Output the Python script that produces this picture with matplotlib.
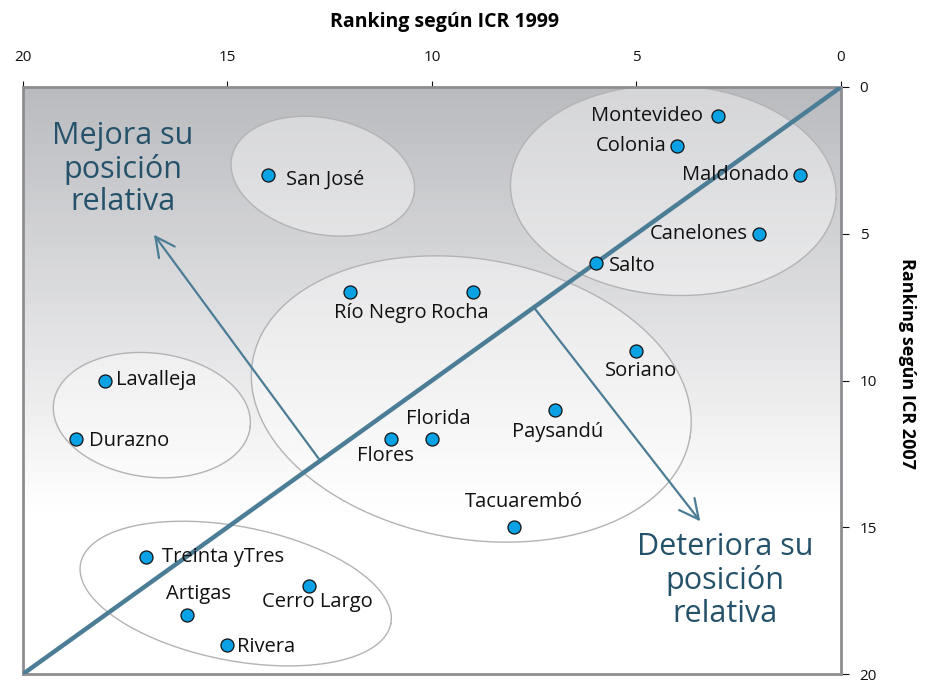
import numpy as np
import matplotlib
matplotlib.use('Agg')
import matplotlib.pyplot as plt
from matplotlib.colors import to_rgb

plt.rcParams['font.family'] = ['Open Sans', 'DejaVu Sans']

# =========================
# DATA (ranking 1999 = x, ranking 2007 = y)
# =========================
departamentos = ['Montevideo', 'Colonia', 'Maldonado', 'Canelones', 'Salto',
                 'San José', 'Río Negro', 'Rocha', 'Soriano', 'Lavalleja',
                 'Durazno', 'Florida', 'Flores', 'Paysandú', 'Tacuarembó',
                 'Treinta yTres', 'Cerro Largo', 'Artigas', 'Rivera']
rank_1999 = [3, 4, 1, 2, 6, 14, 12, 9, 5, 18, 18.7, 10, 11, 7, 8, 17, 13, 16, 15]
rank_2007 = [1, 2, 3, 5, 6, 3, 7, 7, 9, 10, 12, 12, 12, 11, 15, 16, 17, 18, 19]

ticks = [0, 5, 10, 15, 20]

# =========================
# LAYOUT
# =========================
W, H = 928, 685
LINE = '#4c7d96'
TXT = '#25526b'

# label offsets in pixels: (dx, dy, ha)
offsets = {
    'Montevideo': (-15, 0, 'right'),
    'Colonia': (-11, 0, 'right'),
    'Maldonado': (-11, 0, 'right'),
    'Canelones': (-11, 0, 'right'),
    'Salto': (13, -3, 'left'),
    'San José': (18, -5, 'left'),
    'Río Negro': (-16, -21, 'left'),
    'Rocha': (16, -21, 'right'),
    'Soriano': (5, -20, 'center'),
    'Lavalleja': (11, 0, 'left'),
    'Durazno': (13, -2, 'left'),
    'Florida': (6, 20, 'center'),
    'Flores': (-6, -17, 'center'),
    'Paysandú': (3, -22, 'center'),
    'Tacuarembó': (10, 25, 'center'),
    'Treinta yTres': (16, 0, 'left'),
    'Cerro Largo': (8, -16, 'center'),
    'Artigas': (12, 21, 'center'),
    'Rivera': (10, -2, 'left'),
}

# groups: centre (data), semi-axes (px), angle (deg on screen)
groups = [
    ((4.1, 3.52), 163, 105, -3),
    ((12.67, 3.04), 93, 58, -12),
    ((9.04, 10.63), 222, 140, -10),
    ((16.85, 11.18), 99, 62, -7),
    ((14.8, 17.26), 158, 67, -11),
]

fig = plt.figure(figsize=(W / 100, H / 100), dpi=100)
left, right, top, bottom = 23, 841, 87, 674
ax = fig.add_axes([left / W, 1 - bottom / H, (right - left) / W, (bottom - top) / H])
sx = (right - left) / 20
sy = (bottom - top) / 20

# background gradient
t = np.linspace(0, 1, 300)
frac = np.clip(t / 0.72, 0, 1)[:, None]
gray = np.array(to_rgb('#babbbf'))
grad = gray + (1 - gray) * frac
ax.imshow(grad[:, None, :], extent=[0, 1, 0, 1], transform=ax.transAxes,
          aspect='auto', origin='upper', zorder=0, interpolation='bicubic')

# ellipses
tt = np.linspace(0, 2 * np.pi, 300)
for (cx, cy), a, b, ang in groups:
    th = np.deg2rad(ang)
    Xc, Yc = -cx * sx, -cy * sy
    X = Xc + a * np.cos(tt) * np.cos(th) - b * np.sin(tt) * np.sin(th)
    Y = Yc + a * np.cos(tt) * np.sin(th) + b * np.sin(tt) * np.cos(th)
    ex, ey = -X / sx, -Y / sy
    ax.fill(ex, ey, facecolor='white', alpha=0.4, edgecolor='none', zorder=1)
    ax.plot(ex, ey, color='#b3b3b5', lw=1.0, zorder=2)

# diagonal
ax.plot([20, 0], [20, 0], color=LINE, lw=3.2, zorder=3, solid_capstyle='butt')

# arrows
arrow_kw = dict(arrowstyle='->,head_length=0.7,head_width=0.35', color=LINE, lw=1.6,
                mutation_scale=20, shrinkA=0, shrinkB=0)
ax.annotate('', xy=(16.8, 5.03), xytext=(12.75, 12.7), arrowprops=arrow_kw, zorder=3)
ax.annotate('', xy=(3.44, 14.8), xytext=(7.52, 7.49), arrowprops=arrow_kw, zorder=3)

ax.text(17.56, 2.8, 'Mejora su\nposición\nrelativa', color=TXT, fontsize=22,
        ha='center', va='center', linespacing=1.12, zorder=4)
ax.text(2.83, 16.82, 'Deteriora su\nposición\nrelativa', color=TXT, fontsize=22,
        ha='center', va='center', linespacing=1.12, zorder=4)

# points
ax.scatter(rank_1999, rank_2007, s=88, color='#0aa2e4', edgecolor='#111111',
           linewidth=0.9, zorder=5)
for name, x, y in zip(departamentos, rank_1999, rank_2007):
    dx, dy, ha = offsets[name]
    ax.annotate(name, (x, y), xytext=(dx * 0.72, dy * 0.72), textcoords='offset points',
                ha=ha, va='center', fontsize=14.5, color='#111111', zorder=6)

# axes
ax.set_xlim(20, 0)
ax.set_ylim(20, 0)
ax.set_xticks(ticks)
ax.set_yticks(ticks)
ax.xaxis.tick_top()
ax.yaxis.tick_right()
ax.tick_params(axis='x', length=4.5, width=0.8, pad=11, labelsize=11, colors='#111111')
ax.tick_params(axis='y', length=5.5, width=0.8, pad=8, labelsize=11, colors='#111111')
for s in ax.spines.values():
    s.set_color('#8e8e92')
    s.set_linewidth(2)

fig.text(445 / W, 1 - 22 / H, 'Ranking según ICR 1999', ha='center', va='center',
         fontsize=14, fontweight='bold')
fig.text(907 / W, 1 - 363 / H, 'Ranking según ICR 2007', ha='center', va='center',
         fontsize=13, fontweight='bold', rotation=-90)

fig.savefig('out.png', dpi=100)
